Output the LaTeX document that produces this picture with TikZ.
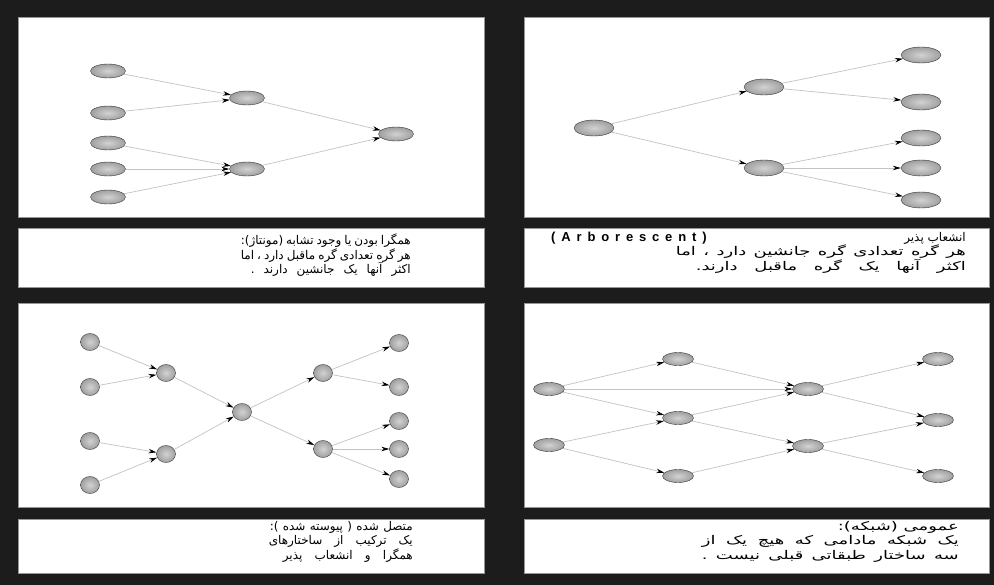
\documentclass[tikz,border=0pt]{standalone}
\usepackage{fontspec}
\usepackage{tikz}
\usetikzlibrary{shapes.geometric, arrows.meta, positioning}
\TeXXeTstate=1
\newfontfamily\farsi[Script=Arabic]{DejaVu Sans}
\newfontfamily\farsiwide[Script=Arabic, FakeStretch=1.5]{DejaVu Sans}
\newfontfamily\latinwide[LetterSpace=45]{Liberation Sans}
\definecolor{framebg}{RGB}{28, 28, 28}
\definecolor{panelrim}{RGB}{150, 150, 150}
\definecolor{linkgray}{RGB}{195, 195, 195}

% a caption line spread to a given width
\newcommand{\spreadline}[2]{\makebox[#1][s]{#2}}

\begin{document}
\begin{tikzpicture}[x=1pt, y=-1pt,
    blob/.style={ellipse, inner sep=0pt, inner color=gray!35,
        outer color=gray!75, draw=gray!40!black, line width=0.4pt},
    link/.style={draw=linkgray, line width=0.7pt,
        -{Stealth[color=black, length=8pt, width=4.5pt]}},
    panel/.style={fill=white, draw=panelrim, line width=0.8pt},
    caption/.style={font=\farsi\fontsize{12}{14.5}\selectfont,
        align=right, anchor=north east, inner sep=0pt}]

    % Frame and panels
    \fill[framebg] (0,0) rectangle (994,585);
    \draw[panel] (18,17) rectangle (484,217);
    \draw[panel] (524,17) rectangle (989,217);
    \draw[panel] (18,228) rectangle (484,287);
    \draw[panel] (524,228) rectangle (989,287);
    \draw[panel] (18,303) rectangle (484,507);
    \draw[panel] (524,303) rectangle (989,507);
    \draw[panel] (18,519) rectangle (484,573);
    \draw[panel] (524,519) rectangle (989,573);

    % Converging (montage)
    \begin{scope}[every node/.style={blob, minimum width=35pt, minimum height=14pt}]
        \foreach \i/\y in {1/71, 2/113, 3/143, 4/169, 5/197}
            \node (cin\i) at (108,\y) {};
        \node (cmid1) at (247,98) {};
        \node (cmid2) at (247,169) {};
        \node (cout) at (396,134) {};
    \end{scope}
    \draw[link] (cin1) -- (cmid1);
    \draw[link] (cin2) -- (cmid1);
    \foreach \i in {3,4,5}
        \draw[link] (cin\i) -- (cmid2);
    \draw[link] (cmid1) -- (cout);
    \draw[link] (cmid2) -- (cout);

    % Arborescent
    \begin{scope}[every node/.style={blob, minimum width=40pt, minimum height=16pt}]
        \node (aroot) at (594,128) {};
        \node (amid1) at (764,87) {};
        \node (amid2) at (764,168) {};
        \foreach \i/\y in {1/55, 2/102, 3/138, 4/168, 5/200}
            \node (aleaf\i) at (921,\y) {};
    \end{scope}
    \draw[link] (aroot) -- (amid1);
    \draw[link] (aroot) -- (amid2);
    \draw[link] (amid1) -- (aleaf1);
    \draw[link] (amid1) -- (aleaf2);
    \foreach \i in {3,4,5}
        \draw[link] (amid2) -- (aleaf\i);

    % Connected (converging then arborescent)
    \begin{scope}[every node/.style={blob, minimum width=19pt, minimum height=17pt}]
        \foreach \i/\y in {1/342, 2/387, 3/441, 4/485}
            \node (xin\i) at (90,\y) {};
        \node (xl1) at (166,373) {};
        \node (xl2) at (166,454) {};
        \node (xhub) at (242,412) {};
        \node (xr1) at (323,373) {};
        \node (xr2) at (323,449) {};
        \foreach \i/\y in {1/343, 2/387, 3/421, 4/449, 5/479}
            \node (xout\i) at (399,\y) {};
    \end{scope}
    \draw[link] (xin1) -- (xl1);
    \draw[link] (xin2) -- (xl1);
    \draw[link] (xin3) -- (xl2);
    \draw[link] (xin4) -- (xl2);
    \draw[link] (xl1) -- (xhub);
    \draw[link] (xl2) -- (xhub);
    \draw[link] (xhub) -- (xr1);
    \draw[link] (xhub) -- (xr2);
    \draw[link] (xr1) -- (xout1);
    \draw[link] (xr1) -- (xout2);
    \foreach \i in {3,4,5}
        \draw[link] (xr2) -- (xout\i);

    % General network
    \begin{scope}[every node/.style={blob, minimum width=31pt, minimum height=13pt}]
        \node (na1) at (549,389) {};
        \node (na2) at (549,445) {};
        \node (nb1) at (678,359) {};
        \node (nb2) at (678,418) {};
        \node (nb3) at (678,476) {};
        \node (nc1) at (808,389) {};
        \node (nc2) at (808,446) {};
        \node (nd1) at (938,359) {};
        \node (nd2) at (938,420) {};
        \node (nd3) at (938,476) {};
    \end{scope}
    \draw[link] (na1) -- (nb1);
    \draw[link] (na1) -- (nc1);
    \draw[link] (na1) -- (nb2);
    \draw[link] (na2) -- (nb2);
    \draw[link] (na2) -- (nb3);
    \draw[link] (nb1) -- (nc1);
    \draw[link] (nb2) -- (nc1);
    \draw[link] (nb2) -- (nc2);
    \draw[link] (nb3) -- (nc2);
    \draw[link] (nc1) -- (nd1);
    \draw[link] (nc1) -- (nd2);
    \draw[link] (nc2) -- (nd2);
    \draw[link] (nc2) -- (nd3);

    % Captions
    \node[caption] (capconv) at (411,234) {%
        \spreadline{170pt}{\beginR همگرا بودن یا وجود تشابه (مونتاژ):\endR}\\
        \spreadline{170pt}{\beginR هر گره تعدادی گره ماقبل دارد ، اما\endR}\\
        \spreadline{160pt}{\beginR اکثر آنها یک جانشین دارند .\endR}};
    \node[caption] (caparbo) at (966,232) {%
        \beginR انشعاب پذیر\endR\\
        {\farsiwide\spreadline{290pt}{\beginR هر گره تعدادی گره جانشین دارد ، اما\endR}}\\
        {\farsiwide\spreadline{270pt}{\beginR اکثر آنها یک گره ماقبل دارند.\endR}}};
    \node[anchor=west, inner sep=0pt, font=\latinwide\bfseries\fontsize{13}{15}\selectfont]
        (arbo) at (551,238) {(Arborescent)};
    \node[caption] (capconn) at (413,521) {%
        \spreadline{143pt}{\beginR متصل شده ( پیوسته شده ):\endR}\\
        \spreadline{144pt}{\beginR یک ترکیب از ساختارهای\endR}\\
        \spreadline{130pt}{\beginR همگرا و انشعاب پذیر\endR}};
    \node[caption] (capnet) at (959,521) {%
        {\farsiwide\beginR عمومی (شبکه):\endR}\\
        {\farsiwide\spreadline{257pt}{\beginR یک شبکه مادامی که هیچ یک از\endR}}\\
        {\farsiwide\spreadline{257pt}{\beginR سه ساختار طبقاتی قبلی نیست .\endR}}};
\end{tikzpicture}
\end{document}
